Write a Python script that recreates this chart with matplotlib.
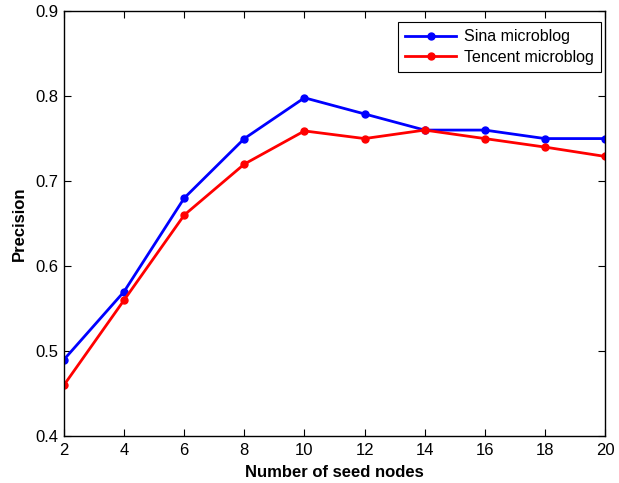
import matplotlib
matplotlib.use("Agg")
import matplotlib.pyplot as plt

plt.rcParams['font.family'] = ['Liberation Sans', 'DejaVu Sans']

# number of seed nodes
seeds = [2, 4, 6, 8, 10, 12, 14, 16, 18, 20]
# precision values
sina = [0.49, 0.57, 0.68, 0.75, 0.798, 0.779, 0.76, 0.76, 0.75, 0.75]
tencent = [0.46, 0.56, 0.66, 0.72, 0.759, 0.75, 0.76, 0.75, 0.74, 0.729]

fig = plt.figure(figsize=(6.19, 4.83), dpi=100)
ax = fig.add_axes([0.1034, 0.0973, 0.8740, 0.8797])

ax.plot(seeds, sina, color="blue", marker="o", markersize=5, linewidth=2, label="Sina microblog")
ax.plot(seeds, tencent, color="red", marker="o", markersize=5, linewidth=2, label="Tencent microblog")

ax.set_xlim(2, 20)
ax.set_ylim(0.4, 0.9)
ax.set_xticks(range(2, 21, 2))
ax.set_yticks([0.4, 0.5, 0.6, 0.7, 0.8, 0.9])
ax.tick_params(direction="in", labelsize=12, length=5, width=0.8, pad=4,
               top=True, right=True)
ax.tick_params(axis="x", pad=5)
for s in ax.spines.values():
    s.set_linewidth(1.0)

ax.set_xlabel("Number of seed nodes", fontsize=12, fontweight="bold", labelpad=5)
ax.set_ylabel("Precision", fontsize=12, fontweight="bold", labelpad=6)

leg = ax.legend(loc="upper right", fontsize=11.5, fancybox=False, edgecolor="black",
                framealpha=1, borderpad=0.45, handlelength=3.2, labelspacing=0.35,
                handletextpad=0.5, borderaxespad=0, bbox_to_anchor=(0.993, 0.974))
leg.get_frame().set_linewidth(0.8)

fig.savefig("out.png", dpi=100)
